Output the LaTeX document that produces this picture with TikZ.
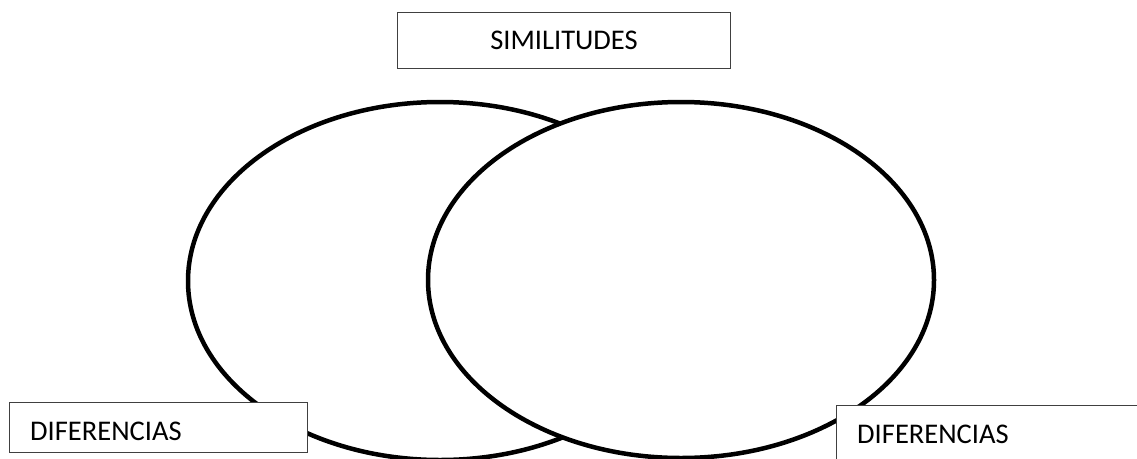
\documentclass[tikz,border=0pt]{standalone}
\usepackage{fontspec}
\setmainfont{Carlito}
\tikzset{
  ring/.style={draw=black, line width=4.5pt, fill=white},
  labelbox/.style={draw=black!75, line width=1pt, fill=white, rectangle, inner sep=0pt},
  lbl/.style={inner sep=0pt, font=\fontsize{28.5}{32}\selectfont, text=black}
}
\begin{document}
\begin{tikzpicture}[x=1pt,y=-1pt]
\useasboundingbox (0,0) rectangle (1137,458);
\clip (0,0) rectangle (1137,458);
\fill[white] (0,0) rectangle (1137,458);
% ellipses (right one lies on top, filled white)
\draw[ring] (440,281) ellipse [x radius=252, y radius=179];
\draw[ring] (681,280) ellipse [x radius=253, y radius=178];
% top box
\node[labelbox, anchor=north west, minimum width=333pt, minimum height=56pt] (simbox) at (397,12) {};
\node[lbl] (simtxt) at (simbox.center) {SIMILITUDES};
% left box
\node[labelbox, anchor=north west, minimum width=298pt, minimum height=50pt] (difl) at (9,402) {};
\node[lbl, anchor=base west] (difltxt) at (30,440) {DIFERENCIAS};
% right box
\node[labelbox, anchor=north west, minimum width=330pt, minimum height=80pt] (difr) at (836,405) {};
\node[lbl, anchor=base west] (difrtxt) at (857,443) {DIFERENCIAS};
\end{tikzpicture}
\end{document}
